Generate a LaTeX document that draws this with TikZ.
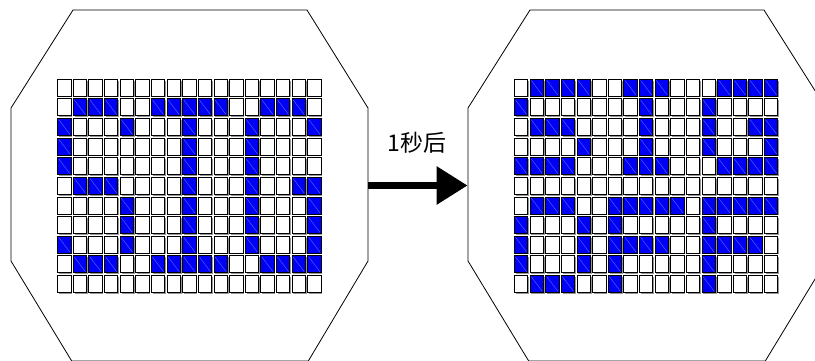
\documentclass[tikz,border=0pt]{standalone}
\usepackage{fontspec}
\newfontfamily\cjk{Noto Sans CJK SC}
\usetikzlibrary{arrows.meta}
\definecolor{cblue}{RGB}{0,0,245}
\definecolor{cdiag}{RGB}{90,120,255}
\definecolor{cshadow}{RGB}{150,150,150}
\tikzset{
  octa/.style={draw=black, line width=0.8pt, fill=white},
  cellshadow/.style={fill=cshadow},
  cellwhite/.style={draw=black, fill=white, line width=0.8pt},
  cellblue/.style={draw=black, fill=cblue, line width=0.8pt},
  celldiag/.style={draw=cdiag, line width=0.35pt},
  bigarrow/.style={line width=6.5pt, -{Triangle[length=31pt,width=37pt]}},
  label/.style={font=\cjk\fontsize{23pt}{26pt}\selectfont, inner sep=0pt}
}
\newcommand\mygrid[3]{%
  \foreach \row [count=\r from 0] in {#3} {
    \foreach \v [count=\c from 0] in \row {
      \pgfmathsetmacro\cx{#1+\c*15.63}
      \pgfmathsetmacro\cy{#2+\r*19.63}
      \fill[cellshadow] (\cx+1.4,\cy+1.4) rectangle (\cx+14.6,\cy+18.2);
      \ifnum\v=1
        \draw[cellblue] (\cx,\cy) rectangle (\cx+13.4,\cy+17);
        \draw[celldiag] (\cx+1.2,\cy+1.2) -- (\cx+12.2,\cy+15.8);
      \else
        \draw[cellwhite] (\cx,\cy) rectangle (\cx+13.4,\cy+17);
      \fi
    }
  }
}
\begin{document}
\begin{tikzpicture}[x=1pt,y=-1pt]
\clip (0,0) rectangle (815,360);
\fill[white] (0,0) rectangle (815,360);
% octagons
\draw[octa] (73,10) -- (307,10) -- (368,108) -- (368,261) -- (308.3,361) -- (71.7,361) -- (11,261) -- (11,108) -- cycle;
\draw[octa] (530,10) -- (764,10) -- (826,108) -- (826,261) -- (765.3,361) -- (528.7,361) -- (468,261) -- (468,108) -- cycle;
\coordinate (Lout) at (368,185.5);
\coordinate (Rin) at (467.5,185.5);
% grids
\mygrid{57.6}{79.2}{
 {0,0,0,0,0,0,0,0,0,0,0,0,0,0,0,0,0},
 {0,1,1,1,0,0,1,1,1,1,1,0,0,1,1,1,0},
 {1,0,0,0,1,0,0,0,1,0,0,0,1,0,0,0,1},
 {1,0,0,0,0,0,0,0,1,0,0,0,1,0,0,0,0},
 {1,0,0,0,0,0,0,0,1,0,0,0,1,0,0,0,0},
 {0,1,1,1,0,0,0,0,1,0,0,0,1,0,0,1,1},
 {0,0,0,0,1,0,0,0,1,0,0,0,1,0,0,0,1},
 {0,0,0,0,1,0,0,0,1,0,0,0,1,0,0,0,1},
 {1,0,0,0,1,0,0,0,1,0,0,0,1,0,0,0,1},
 {0,1,1,1,0,0,1,1,1,1,1,0,0,1,1,1,1},
 {0,0,0,0,0,0,0,0,0,0,0,0,0,0,0,0,0}}
\mygrid{514.4}{79.2}{
 {0,1,1,1,1,0,0,1,1,1,0,0,0,1,1,1,1},
 {1,0,0,0,0,0,0,0,1,0,0,0,1,0,0,0,0},
 {0,1,1,1,0,0,0,0,1,0,0,0,1,0,0,1,1},
 {0,0,0,0,1,0,0,0,1,0,0,0,1,0,0,0,1},
 {1,1,1,1,0,0,0,1,1,1,0,0,0,1,1,1,1},
 {0,0,0,0,0,0,0,0,0,0,0,0,0,0,0,0,0},
 {0,1,1,1,0,0,1,1,1,1,1,0,1,1,1,1,1},
 {1,0,0,0,1,0,1,0,0,0,0,0,1,0,0,0,0},
 {1,0,0,0,1,0,1,1,1,1,0,0,1,1,1,1,0},
 {1,0,0,0,1,0,1,0,0,0,0,0,1,0,0,0,0},
 {0,1,1,1,0,0,1,0,0,0,0,0,1,0,0,0,0}}
% arrow and label
\draw[bigarrow] (Lout) -- (Rin);
\node[label] (lbl) at (417,143) {1秒后};
\end{tikzpicture}
\end{document}
